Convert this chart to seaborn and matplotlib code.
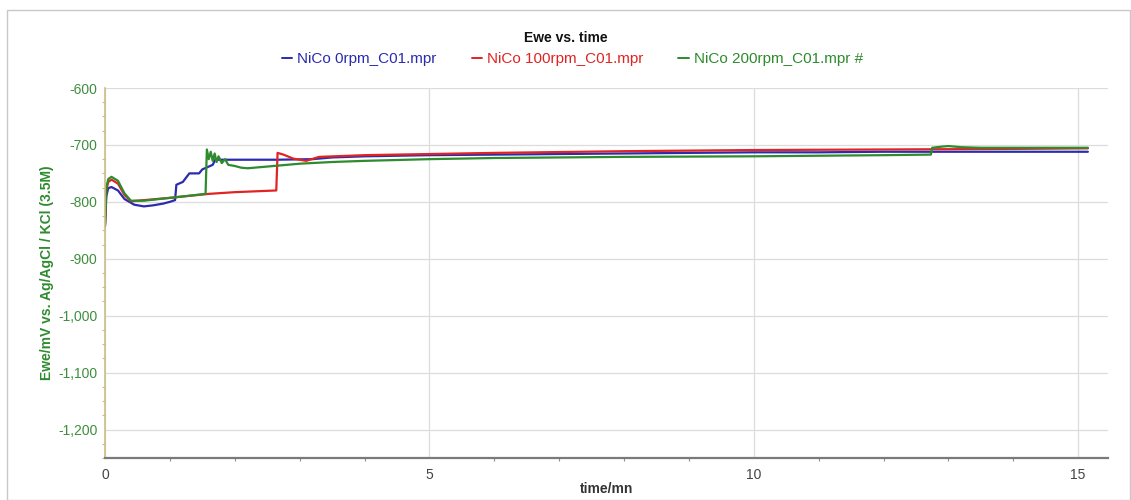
import numpy as np
import pandas as pd
import matplotlib
matplotlib.use("Agg")
import matplotlib.pyplot as plt
from matplotlib.ticker import FuncFormatter, MultipleLocator
from matplotlib.lines import Line2D
from matplotlib.patches import Rectangle
import seaborn as sns

# ---- data ----
series_names = ["NiCo 0rpm_C01.mpr", "NiCo 100rpm_C01.mpr", "NiCo 200rpm_C01.mpr #"]

t_blue = [0, 0.02, 0.05, 0.1, 0.2, 0.3, 0.45, 0.6, 0.75, 0.9, 1.0, 1.08, 1.1, 1.2, 1.3, 1.45,
          1.5, 1.66, 1.7, 2.0, 2.65, 3.2, 3.5, 4, 5, 6, 7, 8, 9, 10, 11, 12, 13, 14, 15.15]
v_blue = [-843, -790, -776, -774, -780, -795, -805, -808, -806, -803, -800, -797, -770, -765,
          -750, -750, -743, -735, -726, -726, -726, -725, -722, -720, -718, -717, -716, -715,
          -714, -713, -713, -712, -712, -712, -712]

t_red = [0, 0.02, 0.05, 0.1, 0.2, 0.3, 0.4, 0.6, 1.0, 1.6, 2.0, 2.64, 2.66, 2.75, 2.9, 3.1,
         3.3, 4, 5, 6, 8, 10, 12, 14, 15.15]
v_red = [-840, -780, -765, -761, -768, -788, -799, -797, -793, -786, -783, -780, -714, -717,
         -724, -728, -721, -718, -716, -714, -711, -709, -708, -707, -706]

t_green = [0, 0.02, 0.05, 0.1, 0.2, 0.3, 0.4, 0.6, 1.0, 1.55, 1.57, 1.6, 1.63, 1.66, 1.69,
           1.72, 1.75, 1.8, 1.85, 1.9, 2.0, 2.1, 2.2, 2.5, 3.0, 3.5, 4, 5, 6, 8, 10, 12,
           12.73, 12.75, 12.9, 13.0, 13.2, 13.5, 14, 15.15]
v_green = [-840, -775, -760, -756, -763, -785, -798, -798, -793, -786, -708, -725, -712,
           -728, -715, -730, -720, -732, -725, -735, -737, -740, -741, -738, -733, -730,
           -728, -725, -723, -721, -720, -718, -717, -705, -703, -702, -704, -705, -705, -705]

colors = ["#2b2bb0", "#e02424", "#2e8b2e"]

frames = []
for name, t, v in zip(series_names, [t_blue, t_red, t_green], [v_blue, v_red, v_green]):
    frames.append(pd.DataFrame({"time": t, "Ewe": v, "series": name}))
df = pd.concat(frames, ignore_index=True)

sns.set_style("white")
plt.rcParams["font.family"] = ["Liberation Sans", "DejaVu Sans"]

fig = plt.figure(figsize=(11.31, 5.0), dpi=100)
fig.patches.append(Rectangle((7 / 1131, 0.0), 1 - 7 / 1131 - 0.001, 1 - 10 / 500,
                             transform=fig.transFigure, fill=False,
                             edgecolor="#c8c8c8", linewidth=1.0))
ax = fig.add_axes([105 / 1131, 1 - 458 / 500, (1108 - 105) / 1131, (458 - 88) / 500])

sns.lineplot(data=df, x="time", y="Ewe", hue="series", palette=colors, hue_order=series_names,
             estimator=None, sort=False, units="series", linewidth=1.6, legend=False, ax=ax)

ax.set_xlim(0, 15.46)
ax.set_ylim(-1250, -600)
ax.xaxis.set_major_locator(MultipleLocator(5))
ax.xaxis.set_minor_locator(MultipleLocator(1))
ax.yaxis.set_major_locator(MultipleLocator(100))
ax.yaxis.set_minor_locator(MultipleLocator(25))
ax.yaxis.set_major_formatter(FuncFormatter(lambda v, p: "{:,.0f}".format(v).replace("\u2212", "-")))

ax.grid(True, which="major", color="#dcdcdc", linewidth=0.9)
for s in ["top", "right"]:
    ax.spines[s].set_visible(False)
ax.spines["left"].set_color("#cbbd82")
ax.spines["left"].set_linewidth(1.2)
ax.spines["bottom"].set_color("#7a7a7a")
ax.spines["bottom"].set_linewidth(1.6)

ax.tick_params(axis="y", which="major", colors="#cbbd82", length=4, width=1, pad=1.5,
               labelcolor="#3e8e3e", labelsize=10)
ax.tick_params(axis="y", which="minor", colors="#cbbd82", length=2, width=0.8, left=True)
ax.tick_params(axis="x", which="major", colors="#909090", length=4, width=1,
               labelcolor="#444444", labelsize=10)
ax.tick_params(axis="x", which="minor", colors="#909090", length=2, width=0.8, bottom=True)

ax.set_xlabel("time/mn", fontsize=10, fontweight="bold", color="#333333", labelpad=0)
ax.set_ylabel("Ewe/mV vs. Ag/AgCl / KCl (3.5M)", fontsize=10, fontweight="bold",
              color="#2e8b2e", labelpad=3)

fig.text(0.5, 1 - 38 / 500, "Ewe vs. time", ha="center", va="center", fontsize=10,
         fontweight="bold", color="#111111")

handles = [Line2D([0], [0], color=c, linewidth=1.4) for c in colors]
leg = fig.legend(handles, series_names, loc="center", bbox_to_anchor=(0.506, 1 - 59 / 500),
                 ncol=3, frameon=False, handlelength=0.7, handletextpad=0.3,
                 columnspacing=2.3, fontsize=11)
for txt, c in zip(leg.get_texts(), colors):
    txt.set_color(c)

fig.savefig("out.png", dpi=100, facecolor="white")
